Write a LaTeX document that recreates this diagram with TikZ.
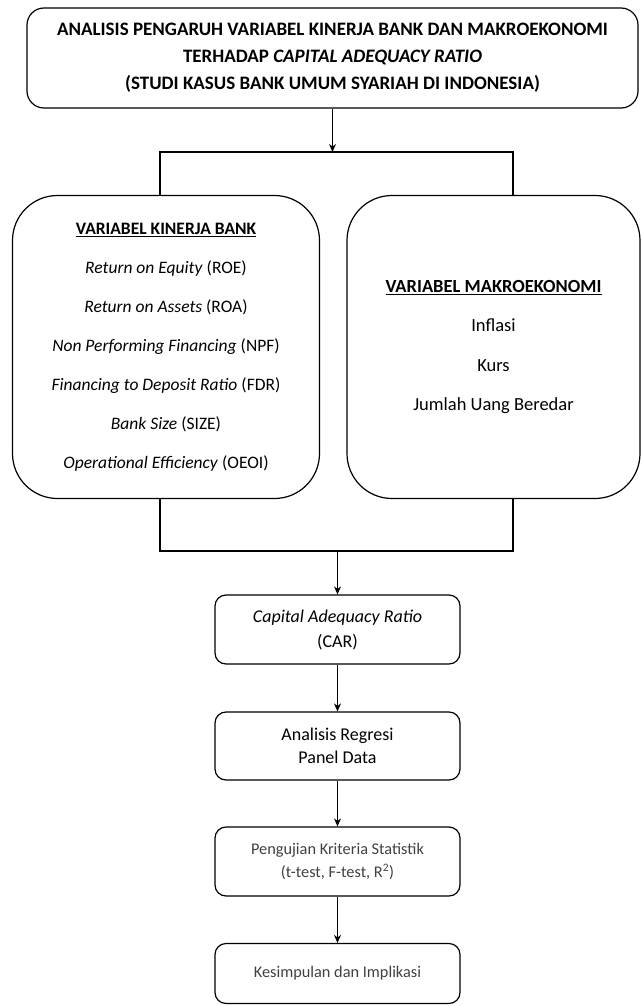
\documentclass[tikz,border=0pt]{standalone}
\usepackage{fontspec}
\setmainfont{Carlito}
\usetikzlibrary{arrows.meta}

\begin{document}
\begin{tikzpicture}[x=1pt, y=-1pt, line width=1.2pt]
      \tikzset{every node/.style={draw=black, align=center, inner sep=0pt}}
      \tikzset{arr/.style={-{Stealth[length=8pt, width=7pt]}}}
      \useasboundingbox (0,0) rectangle (641,1006);

      \node[rounded corners=17pt, minimum width=611pt, minimum height=100pt,
        font=\bfseries\fontsize{19}{27}\selectfont] (judul) at (332.5,58)
        {ANALISIS PENGARUH VARIABEL KINERJA BANK DAN MAKROEKONOMI\\
         TERHADAP \textit{CAPITAL ADEQUACY RATIO}\\
         (STUDI KASUS BANK UMUM SYARIAH DI INDONESIA)};

      \node[rounded corners=45pt, minimum width=307pt, minimum height=303pt,
        font=\fontsize{17.5}{39}\selectfont] (kinerja) at (166,347)
        {\textbf{\underline{VARIABEL KINERJA BANK}}\\
         \textit{Return on Equity} (ROE)\\
         \textit{Return on Assets} (ROA)\\
         \textit{Non Performing Financing} (NPF)\\
         \textit{Financing to Deposit Ratio} (FDR)\\
         \textit{Bank Size} (SIZE)\\
         \textit{Operational Efficiency} (OEOI)};

      \node[rounded corners=45pt, minimum width=293pt, minimum height=303pt,
        font=\fontsize{18.5}{39.5}\selectfont] (makro) at (493.5,347)
        {\textbf{\underline{VARIABEL MAKROEKONOMI}}\\
         Inflasi\\
         Kurs\\
         Jumlah Uang Beredar};

      \node[rounded corners=11pt, minimum width=245pt, minimum height=69pt,
        font=\fontsize{18}{25}\selectfont] (car) at (337.5,629.5)
        {\textit{Capital Adequacy Ratio}\\ (CAR)};
      \node[rounded corners=11pt, minimum width=245pt, minimum height=68pt,
        font=\fontsize{18}{23.5}\selectfont] (regresi) at (337.5,746)
        {Analisis Regresi\\ Panel Data};
      \node[rounded corners=11pt, minimum width=245pt, minimum height=69pt,
        text=black!75, font=\fontsize{16.3}{23}\selectfont] (uji) at (337.5,861.5)
        {Pengujian Kriteria Statistik\\ (t-test, F-test, R\textsuperscript{2})};
      \node[rounded corners=11pt, minimum width=245pt, minimum height=60pt,
        text=black!75, font=\fontsize{16.3}{23}\selectfont] (simpul) at (337.5,973.5)
        {Kesimpulan dan Implikasi};

      % cabang atas
      \coordinate (cabang) at (332.5,152);
      \coordinate (cabangL) at (160,152);
      \coordinate (cabangR) at (513,152);
      \draw[arr] (judul) -- (cabang);
      \draw (cabangL |- kinerja.north) -- (cabangL) -- (cabangR) -- (cabangR |- makro.north);

      % gabung bawah
      \coordinate (gabung) at (337.5,551);
      \coordinate (gabungL) at (160,551);
      \coordinate (gabungR) at (513,551);
      \draw (gabungL |- kinerja.south) -- (gabungL) -- (gabungR) -- (gabungR |- makro.south);
      \draw[arr] (gabung) -- (car);

      \draw[arr] (car) -- (regresi);
      \draw[arr] (regresi) -- (uji);
      \draw[arr] (uji) -- (simpul);
    \end{tikzpicture}
\end{document}
